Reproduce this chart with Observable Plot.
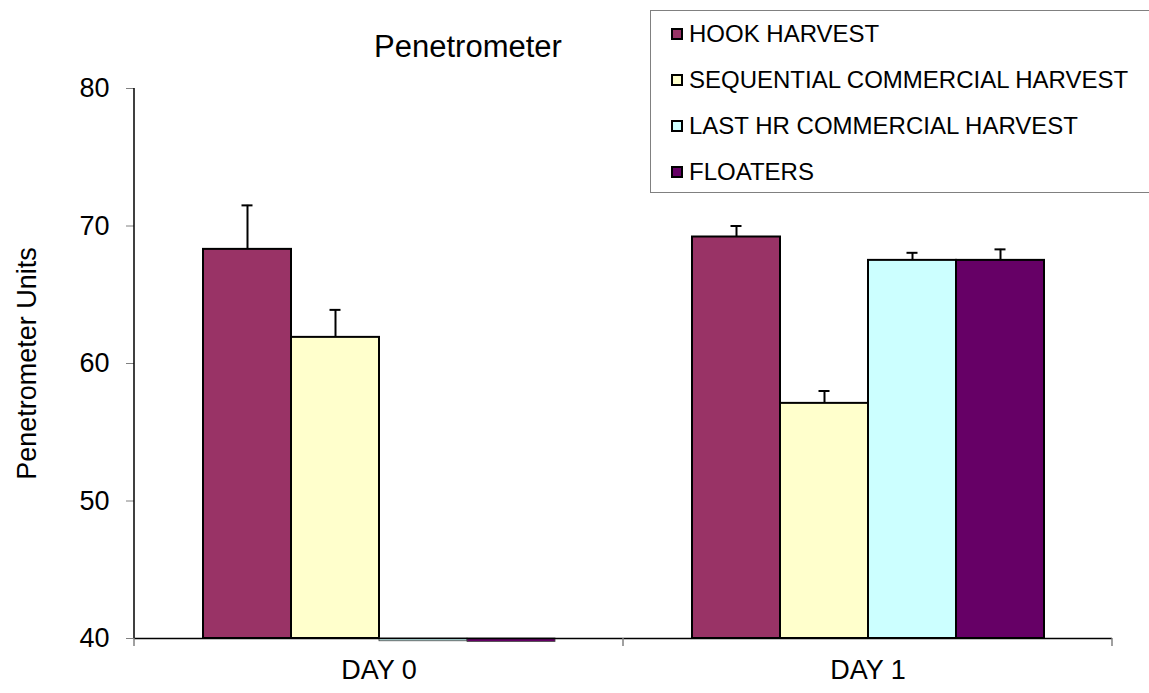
<!DOCTYPE html>
<html>
<head>
<meta charset="utf-8">
<script src="https://cdn.jsdelivr.net/npm/d3@7"></script>
<script src="https://cdn.jsdelivr.net/npm/@observablehq/plot@0.6"></script>
<style>
  html, body { margin: 0; padding: 0; background: #fff; overflow: hidden; }
  #wrap { position: relative; width: 1149px; height: 693px; overflow: hidden;
          font-family: "Liberation Sans", Arial, sans-serif; color: #000; }
  #chart { position: absolute; left: 0; top: 0; }
  #title { position: absolute; left: 268px; top: 31px; width: 400px; text-align: center;
           font-size: 31px; line-height: 31px; }
  #legend { position: absolute; left: 650px; top: 10px; width: 520px; height: 183px;
            box-sizing: border-box; border: 1px solid #808080; background: #fff; overflow: hidden; }
  .item { display: flex; align-items: center; height: 46px; padding-left: 20px; font-size: 24px; white-space: nowrap; }
  .sw { width: 12px; height: 12px; box-sizing: border-box; border: 2px solid #000; margin-right: 6px; flex: none; }
</style>
</head>
<body>
<div id="wrap">
  <div id="chart"></div>
  <div id="title">Penetrometer</div>
  <div id="legend"></div>
</div>
<script>
// ---- data ----
const days = ["DAY 0", "DAY 1"];
const series = ["HOOK HARVEST", "SEQUENTIAL COMMERCIAL HARVEST", "LAST HR COMMERCIAL HARVEST", "FLOATERS"];
const colors = ["#993366", "#FFFFCC", "#CCFFFF", "#660066"];
const day0Values = [68.3, 61.9, 39.8, 39.75];
const day0Errors = [3.2, 2.0, null, null];
const day1Values = [69.2, 57.1, 67.5, 67.5];
const day1Errors = [0.8, 0.9, 0.55, 0.8];
const yTicks = [40, 50, 60, 70, 80];
const yLabel = "Penetrometer Units";
const yMin = 40, yMax = 80;

const rows = [];
days.forEach((d, i) => {
  const vals = i === 0 ? day0Values : day1Values;
  const errs = i === 0 ? day0Errors : day1Errors;
  series.forEach((s, k) => rows.push({ day: d, series: s, value: vals[k], err: errs[k] }));
});
const errRows = rows.filter(r => r.err != null);
const tallRows = rows.filter(r => r.value >= yMin);
const flatRows = rows.filter(r => r.value < yMin);

const font = '"Liberation Sans", Arial, sans-serif';

const chart = Plot.plot({
  width: 1149,
  height: 693,
  marginTop: 88,
  marginBottom: 55,
  marginLeft: 133,
  marginRight: 37,
  style: { fontFamily: font, fontSize: "27px", color: "#000", background: "transparent", overflow: "visible" },
  fx: { domain: days, padding: 0, label: null },
  x: { domain: series, paddingInner: 0, paddingOuter: 0.75, axis: null },
  y: { domain: [yMin, yMax] },
  color: { domain: series, range: colors },
  marks: [
    Plot.axisFx({ anchor: "bottom", tickSize: 0, tickPadding: 21, label: null, fontSize: 27, fill: "#000" }),
    Plot.axisY({ ticks: yTicks, tickSize: 8, tickPadding: 17, stroke: "#808080", fill: "#000", fontSize: 27,
                 label: yLabel, labelAnchor: "center", labelArrow: "none", labelOffset: 118 }),
    Plot.barY(rows, { fx: "day", x: "series", y1: () => yMin, y2: "value", fill: "series" }),
    Plot.barY(tallRows, { fx: "day", x: "series", y1: () => yMin, y2: "value", fill: "none", stroke: "#000", strokeWidth: 2 }),
    Plot.barY(flatRows, { fx: "day", x: "series", y1: () => yMin, y2: "value", fill: "none", stroke: "#444", strokeWidth: 0.8 }),
    Plot.ruleY([yMin], { stroke: "#000", strokeWidth: 1.5 }),
    Plot.ruleX(errRows, { fx: "day", x: "series", y1: "value", y2: d => d.value + d.err, stroke: "#000", strokeWidth: 2 }),
    Plot.tickY(errRows, { fx: "day", x: "series", y: d => d.value + d.err, stroke: "#000", strokeWidth: 2, insetLeft: 38.5, insetRight: 38.5 })
  ]
});
document.getElementById("chart").appendChild(chart);

// left axis line and category boundary tick marks, placed through Plot's own scales
const fxS = chart.scale("fx"), yS = chart.scale("y");
const yBase = yS.apply(yMin), yTop = yS.apply(yMax);
const bounds = days.map(d => fxS.apply(d));
bounds.push(fxS.apply(days[days.length - 1]) + fxS.bandwidth);
const svg = d3.select(chart);
const g = svg.append("g");
g.append("line").attr("x1", bounds[0]).attr("x2", bounds[0]).attr("y1", yTop).attr("y2", yBase)
  .attr("stroke", "#000").attr("stroke-width", 1.5);
bounds.forEach(b => g.append("line").attr("x1", b).attr("x2", b).attr("y1", yBase).attr("y2", yBase + 8)
  .attr("stroke", "#808080").attr("stroke-width", 1.5));

// legend
const leg = d3.select("#legend");
series.forEach((s, k) => {
  const it = leg.append("div").attr("class", "item");
  it.append("div").attr("class", "sw").style("background", colors[k]);
  it.append("span").text(s);
});
</script>
</body>
</html>
